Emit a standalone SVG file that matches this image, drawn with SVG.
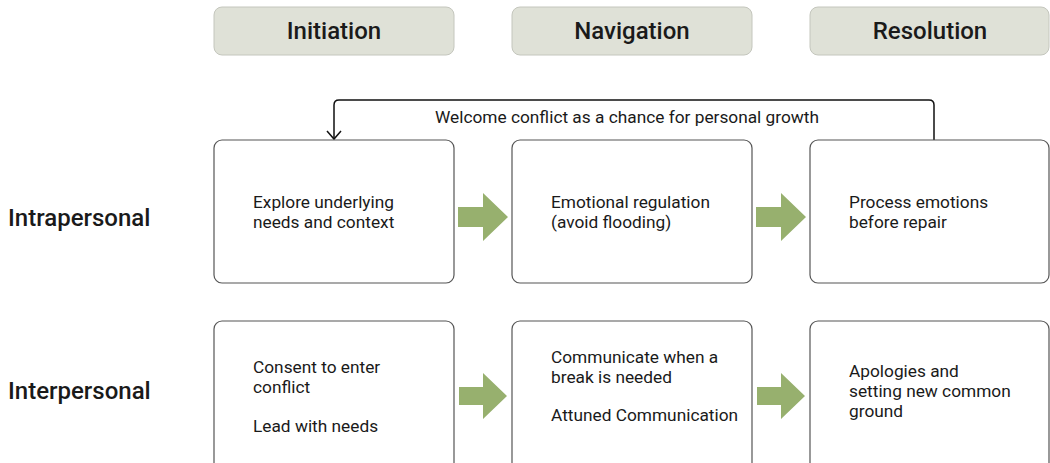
<svg xmlns="http://www.w3.org/2000/svg" width="1050" height="463" viewBox="0 0 1050 463">
<style>
text{font-family:Roboto,"Liberation Sans",sans-serif;fill:#1a1a1a}
.hdr{fill:#dfe1d7;stroke:#c4c6bd;stroke-width:1}
.ht{font-size:24px;font-weight:500;text-anchor:middle}
.box{fill:#fff;stroke:#555;stroke-width:1.2}
.bt{font-size:17.3px}
.rl{font-size:24px;font-weight:500}
.arr{fill:#97b06e}
.conn{fill:none;stroke:#111;stroke-width:1.5}
</style>
<rect width="1050" height="463" fill="#fff"/>
<g id="hdr-initiation"><rect class="hdr" x="214" y="7" width="240" height="48" rx="8"/><text class="ht" x="334" y="39">Initiation</text></g>
<g id="hdr-navigation"><rect class="hdr" x="512" y="7" width="240" height="48" rx="8"/><text class="ht" x="632" y="39">Navigation</text></g>
<g id="hdr-resolution"><rect class="hdr" x="810" y="7" width="239" height="48" rx="8"/><text class="ht" x="930" y="39">Resolution</text></g>
<g id="label-intra"><text class="rl" x="8" y="226">Intrapersonal</text></g>
<g id="label-inter"><text class="rl" x="8" y="399">Interpersonal</text></g>
<g id="connectors">
<path class="conn" d="M934,140 V105 Q934,100 929,100 H339 Q334,100 334,105 V139"/>
<path class="conn" d="M327,131 L334,139 L341,131"/>
<text class="bt" x="627" y="123" text-anchor="middle">Welcome conflict as a chance for personal growth</text>
<polygon class="arr" points="458,207 483,207 483,193 508,217 483,241 483,227 458,227"/>
<polygon class="arr" points="756,207 781,207 781,193 806,217 781,241 781,227 756,227"/>
<polygon class="arr" points="459,387 483,387 483,373 507,396 483,419 483,405 459,405"/>
<polygon class="arr" points="757,387 781,387 781,373 805,396 781,419 781,405 757,405"/>
</g>
<g id="n-explore"><rect class="box" x="214" y="140" width="240" height="143" rx="8"/><text class="bt" x="253" y="208">Explore underlying</text><text class="bt" x="253" y="228">needs and context</text></g>
<g id="n-regulation"><rect class="box" x="512" y="140" width="240" height="143" rx="8"/><text class="bt" x="551" y="208">Emotional regulation</text><text class="bt" x="551" y="228">(avoid flooding)</text></g>
<g id="n-process"><rect class="box" x="810" y="140" width="239" height="143" rx="8"/><text class="bt" x="849" y="208">Process emotions</text><text class="bt" x="849" y="228">before repair</text></g>
<g id="n-consent"><rect class="box" x="214" y="321" width="240" height="150" rx="8"/><text class="bt" x="253" y="373">Consent to enter</text><text class="bt" x="253" y="393">conflict</text><text class="bt" x="253" y="432">Lead with needs</text></g>
<g id="n-communicate"><rect class="box" x="512" y="321" width="240" height="150" rx="8"/><text class="bt" x="551" y="363">Communicate when a</text><text class="bt" x="551" y="383">break is needed</text><text class="bt" x="551" y="421">Attuned Communication</text></g>
<g id="n-apologies"><rect class="box" x="810" y="321" width="239" height="150" rx="8"/><text class="bt" x="849" y="377">Apologies and</text><text class="bt" x="849" y="397">setting new common</text><text class="bt" x="849" y="417">ground</text></g>
</svg>
